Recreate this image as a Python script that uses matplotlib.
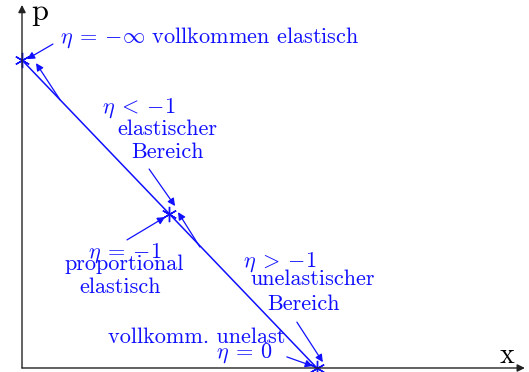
import matplotlib
matplotlib.use("Agg")
import matplotlib.pyplot as plt

plt.rcParams['font.family'] = 'cmr10'
plt.rcParams['mathtext.fontset'] = 'cm'
plt.rcParams['axes.unicode_minus'] = False

# demand line p(x): starts at the price axis, ends at the quantity axis
x_pts = [0, 5, 10]
p_pts = [10, 5, 0]

x_axis_end = 17.05
p_axis_end = 11.79

BLUE = '#1010ff'
FS = 16


def arrow(ax, start, end, color=BLUE, lw=0.9, scale=11):
    ax.annotate('', xy=end, xytext=start,
                arrowprops=dict(arrowstyle='-|>', color=color, lw=lw,
                                mutation_scale=scale, shrinkA=0, shrinkB=0))


def main():
    fig = plt.figure(figsize=(5.29, 3.72), dpi=100)
    ax = fig.add_axes([0, 0, 1, 1])
    ax.set_xlim(-0.746, 17.19)
    ax.set_ylim(-0.13, 11.95)
    ax.axis('off')

    # axes with arrow heads
    arrow(ax, (0, 0), (0, p_axis_end), color='#222222', lw=1.0, scale=11)
    arrow(ax, (0, 0), (x_axis_end, 0), color='#222222', lw=1.0, scale=11)
    ax.text(0.31, 11.30, 'p', fontsize=22, color='black', ha='left', va='baseline')
    ax.text(16.44, 0.16, 'x', fontsize=20, color='black', ha='center', va='baseline')

    # the line and its three marked points
    ax.plot(x_pts, p_pts, color=BLUE, lw=1.1)
    ax.plot(x_pts, p_pts, ls='none', marker=(6, 2, 0), ms=11, mew=1.0, color=BLUE)

    # ranges along the line
    arrow(ax, (1.29, 8.71), (0.475, 9.90))
    arrow(ax, (6.03, 3.93), (5.29, 5.06))

    # pointers to the labels
    arrow(ax, (1.05, 10.52), (0.17, 10.03))
    arrow(ax, (4.31, 6.46), (5.19, 5.26))
    arrow(ax, (3.56, 4.16), (4.85, 4.90))
    arrow(ax, (9.32, 1.49), (10.20, 0.19))
    arrow(ax, (8.98, 0.36), (9.86, 0.06))

    kw = dict(fontsize=FS, color=BLUE, va='baseline')
    ax.text(1.288, 10.55, r'$\eta\:=\:{-\infty}$ vollkommen elastisch', ha='left', **kw)
    ax.text(2.71, 8.28, r'$\eta\:<\:{-1}$', ha='left', **kw)
    ax.text(4.92, 7.56, 'elastischer', ha='center', **kw)
    ax.text(4.92, 6.82, 'Bereich', ha='center', **kw)
    ax.text(3.49, 3.57, r'$\eta\:=\:{-1}$', ha='center', **kw)
    ax.text(3.46, 3.18, 'proportional', ha='center', **kw)
    ax.text(3.32, 2.44, 'elastisch', ha='center', **kw)
    ax.text(7.49, 3.28, r'$\eta\:>\:{-1}$', ha='left', **kw)
    ax.text(9.86, 2.69, 'unelastischer', ha='center', **kw)
    ax.text(9.53, 1.88, 'Bereich', ha='center', **kw)
    ax.text(5.93, 0.81, 'vollkomm. unelast', ha='center', **kw)
    ax.text(7.56, 0.32, r'$\eta\:=\:0$', ha='center', **kw)

    fig.savefig('out.png', dpi=100)


if __name__ == "__main__":
    main()
